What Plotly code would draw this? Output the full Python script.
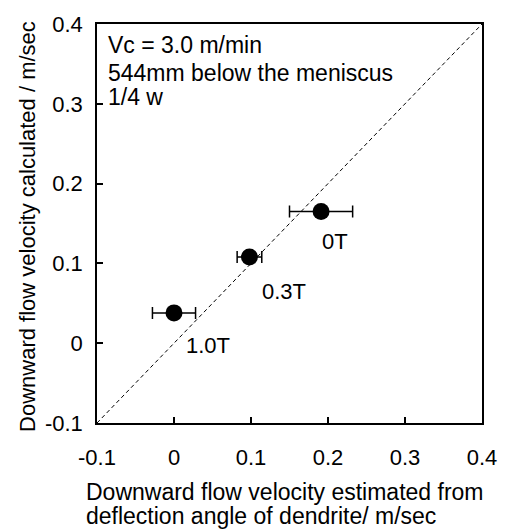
import plotly.graph_objects as go

# Data
labels = ["0T", "0.3T", "1.0T"]
x_est = [0.191, 0.098, 0.0]
y_calc = [0.165, 0.108, 0.038]
x_err = [0.041, 0.016, 0.028]
label_x = [0.209, 0.143, 0.044]
label_y = [0.127, 0.065, -0.003]
ref_line = [-0.1, 0.4]
tick_vals = [-0.1, 0, 0.1, 0.2, 0.3, 0.4]
tick_text = ["-0.1", "0", "0.1", "0.2", "0.3", "0.4"]
info_lines = ["Vc = 3.0 m/min", "544mm below the meniscus", "1/4 w"]
xtitle_lines = ["Downward flow velocity estimated from", "deflection angle of dendrite/ m/sec"]
ytitle = "Downward flow velocity calculated / m/sec"

FONT = "Arial, Liberation Sans, Helvetica, sans-serif"
FS_TEXT = 23
FS_TICK = 22

fig = go.Figure()
fig.add_trace(go.Scatter(x=ref_line, y=ref_line, mode="lines",
                         line=dict(color="black", width=1, dash="4px,3px"),
                         showlegend=False, hoverinfo="skip"))
fig.add_trace(go.Scatter(x=x_est, y=y_calc, mode="markers",
                         marker=dict(color="black", size=17),
                         error_x=dict(type="data", array=x_err, visible=True,
                                      color="black", thickness=1.5, width=6),
                         showlegend=False))

for t, lx, ly in zip(labels, label_x, label_y):
    fig.add_annotation(x=lx, y=ly, text=t, showarrow=False,
                       xref="x", yref="y", xanchor="center", yanchor="middle",
                       font=dict(family=FONT, size=22, color="black"))

info_y = [0.374, 0.339, 0.309]
for t, iy in zip(info_lines, info_y):
    fig.add_annotation(x=-0.088, y=iy, text=t, showarrow=False,
                       xref="x", yref="y", xanchor="left", yanchor="middle",
                       font=dict(family=FONT, size=FS_TEXT, color="black"))

xtitle_y = [-0.172, -0.233]
for t, ty in zip(xtitle_lines, xtitle_y):
    fig.add_annotation(x=-0.035, y=ty, xref="paper", yref="paper", text=t,
                       showarrow=False, xanchor="left", yanchor="middle",
                       font=dict(family=FONT, size=FS_TEXT, color="black"))

fig.add_annotation(x=-0.18, y=0.493, xref="paper", yref="paper",
                   text=ytitle, textangle=-90, showarrow=False,
                   xanchor="center", yanchor="middle",
                   font=dict(family=FONT, size=22, color="black"))

axis_common = dict(range=[-0.1, 0.4], tickvals=tick_vals, ticktext=tick_text,
                   ticks="inside", ticklen=6, tickwidth=1.5, tickcolor="black",
                   showline=True, linecolor="black", linewidth=1.5, mirror=True,
                   showgrid=False, zeroline=False, ticklabeloverflow="allow",
                   tickfont=dict(family=FONT, size=FS_TICK, color="black"))

fig.update_xaxes(**axis_common, ticklabelstandoff=14)
fig.update_yaxes(**axis_common, ticklabelstandoff=8)

fig.update_layout(width=509, height=532,
                  margin=dict(l=97, r=15, t=16, b=109),
                  plot_bgcolor="white", paper_bgcolor="white",
                  font=dict(family=FONT, size=FS_TEXT, color="black"))

fig.write_html("out.html")
